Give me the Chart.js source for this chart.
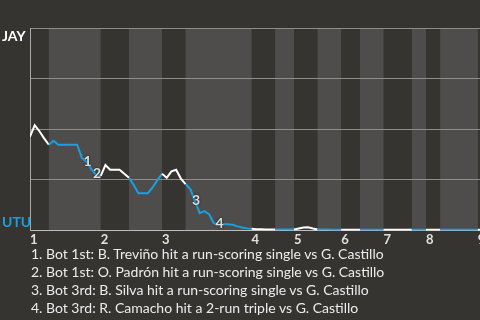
<!DOCTYPE html>
<html><head><meta charset="utf-8">
<script src="https://cdn.jsdelivr.net/npm/chart.js@4/dist/chart.umd.min.js"></script>
<style>
html,body{margin:0;padding:0;background:#363430;width:480px;height:320px;overflow:hidden}
#wrap{position:absolute;left:0;top:0;width:492px;height:250px}
#notes{position:absolute;left:31px;top:245px;color:#ececec;font:14px Lato, sans-serif;line-height:18px;white-space:nowrap}
</style></head><body>
<div id="wrap"><canvas id="c"></canvas></div>
<div id="notes"></div>
<script>
const teams = ['JAY', 'UTU'];
const inningLabels = ['1','2','3','4','5','6','7','8','9'];
// plate-appearance index at which each half-inning begins (top 1st, bot 1st, top 2nd, ...)
const halfInningStarts = [0,4,15,21,28,33,47,52,56,61,66,70,75,81,84,87,95];
// JAY win probability after each plate appearance
const winProb = [
  0.463,0.52,0.49,0.455,0.423,0.443,0.423,0.423,0.423,0.423,
  0.423,0.358,0.338,0.303,0.274,0.269,0.323,0.30,0.30,0.30,
  0.28,0.26,0.224,0.184,0.184,0.184,0.212,0.247,0.28,0.26,
  0.292,0.30,0.256,0.229,0.204,0.145,0.085,0.095,0.08,0.035,
  0.03,0.03,0.03,0.028,0.02,0.014,0.01,0.008,0.006,0.006,
  0.005,0.005,0.005,0.004,0.004,0.004,0.004,0.009,0.014,0.015,
  0.009,0.004,0.004,0.004,0.003,0.003,0.003,0.003,0.003,0.003,
  0.003,0.003,0.003,0.003,0.003,0.003,0.003,0.003,0.003,0.003,
  0.003,0.003,0.003,0.003,0.003,0.003,0.003,0.003,0.003,0.003,
  0.003,0.003,0.003,0.003,0.003,0.003,0.003,0.003,0.003
];
const eventLabels = ['1','2','3','4'];
const eventPA = [12,14,35,40];
const notes = [
  '1. Bot 1st: B. Treviño hit a run-scoring single vs G. Castillo',
  '2. Bot 1st: O. Padrón hit a run-scoring single vs G. Castillo',
  '3. Bot 3rd: B. Silva hit a run-scoring single vs G. Castillo',
  '4. Bot 3rd: R. Camacho hit a 2-run triple vs G. Castillo'
];
const inningStarts = halfInningStarts.filter((v, i) => i % 2 === 0);
const xMax = 98;

const BG = '#363430', BAND = '#4e4d4b', GRID = '#8e8d8a', BLUE = '#1a9fe0', WHITE = '#ffffff';

document.getElementById('notes').innerHTML = notes.map(n => '<div>' + n + '</div>').join('');

function halfIndexOf(x) {
  let k = 0;
  for (let i = 0; i < halfInningStarts.length; i++) if (halfInningStarts[i] <= x) k = i;
  return k;
}

const bandsPlugin = {
  id: 'bands',
  beforeDraw(chart) {
    const {ctx, chartArea: {top, bottom, left, right}, scales: {x}} = chart;
    ctx.save();
    ctx.beginPath(); ctx.rect(left, top, right - left, bottom - top); ctx.clip();
    for (let i = 1; i < halfInningStarts.length; i += 2) {
      const a = x.getPixelForValue(halfInningStarts[i]);
      const b = x.getPixelForValue(i + 1 < halfInningStarts.length ? halfInningStarts[i + 1] : xMax);
      ctx.fillStyle = BAND;
      ctx.fillRect(a, top, b - a, bottom - top);
    }
    ctx.restore();
  }
};

const labelsPlugin = {
  id: 'labels',
  afterDatasetsDraw(chart) {
    const {ctx, scales: {x, y}} = chart;
    ctx.save();
    ctx.font = 'bold 14px Lato, sans-serif';
    ctx.textAlign = 'center'; ctx.textBaseline = 'middle';
    ctx.shadowColor = 'rgba(0,0,0,0.8)'; ctx.shadowBlur = 2;
    ctx.fillStyle = '#dedede';
    eventPA.forEach((pa, i) => {
      ctx.fillText(eventLabels[i], x.getPixelForValue(pa) + 1, y.getPixelForValue(winProb[pa]) - 1);
    });
    ctx.shadowBlur = 0;
    ctx.textAlign = 'left';
    ctx.font = 'bold 14px Lato, sans-serif';
    ctx.fillStyle = WHITE;
    ctx.fillText(teams[0], 2, y.getPixelForValue(1) + 8);
    ctx.fillStyle = BLUE;
    ctx.fillText(teams[1], 2, y.getPixelForValue(0) - 8);
    ctx.restore();
  }
};

new Chart(document.getElementById('c'), {
  type: 'line',
  data: {
    datasets: [{
      data: winProb.map((v, i) => ({x: i, y: v})),
      borderWidth: 2,
      pointRadius: 0,
      tension: 0,
      borderColor: WHITE,
      segment: {
        borderColor: ctx => halfIndexOf(ctx.p0.parsed.x) % 2 === 0 ? WHITE : BLUE
      }
    }]
  },
  options: {
    responsive: true,
    maintainAspectRatio: false,
    animation: false,
    layout: {padding: {top: 28, left: 0, right: 0, bottom: 0}},
    plugins: {legend: {display: false}, tooltip: {enabled: false}},
    scales: {
      x: {
        type: 'linear', min: 0, max: xMax,
        afterBuildTicks: s => { s.ticks = inningStarts.map(v => ({value: v})); },
        ticks: {
          autoSkip: false, align: 'start', padding: 2, maxRotation: 0,
          color: '#e0e0e0', font: {family: 'Lato, sans-serif', size: 13, weight: 'bold'},
          callback: (v, i) => inningLabels[i]
        },
        grid: {display: false, drawTicks: false},
        border: {display: true, color: '#bdbdbd', width: 1}
      },
      y: {
        min: 0, max: 1,
        afterFit: s => { s.width = 30; },
        ticks: {display: false, stepSize: 0.25},
        grid: {color: GRID, lineWidth: 1, drawTicks: false},
        border: {display: true, color: '#a8a8a8', width: 1}
      }
    }
  },
  plugins: [bandsPlugin, labelsPlugin]
});
</script>
</body></html>
